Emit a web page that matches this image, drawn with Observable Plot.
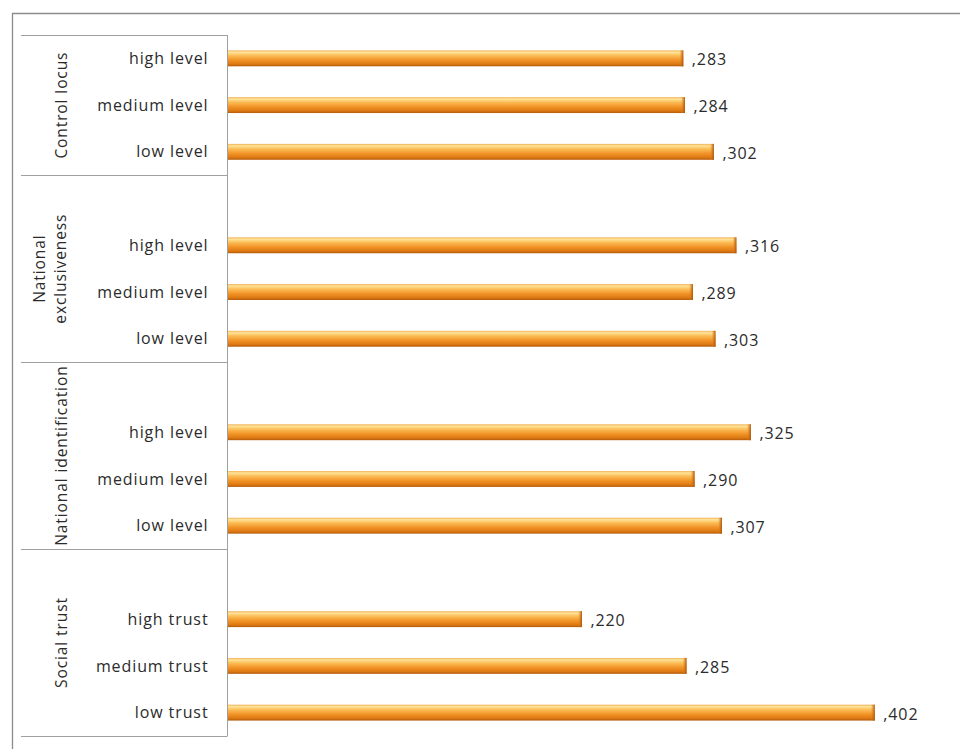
<!DOCTYPE html>
<html><head><meta charset="utf-8">
<script src="https://cdn.jsdelivr.net/npm/d3@7"></script>
<script src="https://cdn.jsdelivr.net/npm/@observablehq/plot@0.6"></script>
<style>
body{margin:0;background:#fff}
#chart svg text{letter-spacing:0.9px}
</style>
</head><body><div id="chart"></div>
<script>
// ---- data ----
const groups = ["Control locus", "National exclusiveness", "National identification", "Social trust"];
const groupLines = [["Control locus"], ["National", "exclusiveness"], ["National identification"], ["Social trust"]];
const levels = [
  ["high level", "medium level", "low level"],
  ["high level", "medium level", "low level"],
  ["high level", "medium level", "low level"],
  ["high trust", "medium trust", "low trust"]
];
const values = [
  [0.283, 0.284, 0.302],
  [0.316, 0.289, 0.303],
  [0.325, 0.290, 0.307],
  [0.220, 0.285, 0.402]
];

// ---- build table ----
const rows = [];
const yDomain = [];
groups.forEach((g, gi) => {
  if (gi > 0) yDomain.push("gap" + gi);
  levels[gi].forEach((l, li) => {
    const key = g + "|" + l;
    yDomain.push(key);
    rows.push({group: g, gi, level: l, key, value: values[gi][li]});
  });
});

const PI = 0.66;
const fmt = v => "," + v.toFixed(3).split(".")[1];

function defsMark() {
  const defs = d3.create("svg:defs");
  const g = defs.append("linearGradient").attr("id", "barGrad").attr("x1", 0).attr("y1", 0).attr("x2", 0).attr("y2", 1);
  [[0, "#f2b055"], [0.12, "#ffe49a"], [0.3, "#fcc05a"], [0.6, "#f29428"], [0.85, "#de7a14"], [1, "#b45a0a"]]
    .forEach(([o, c]) => g.append("stop").attr("offset", o).attr("stop-color", c));
  const c = defs.append("linearGradient").attr("id", "capGrad").attr("x1", 0).attr("y1", 0).attr("x2", 1).attr("y2", 0);
  [[0, "#e88a20", 0], [1, "#a8520a", 1]]
    .forEach(([o, col, op]) => c.append("stop").attr("offset", o).attr("stop-color", col).attr("stop-opacity", op));
  const f = defs.append("filter").attr("id", "shadow").attr("x", "-5%").attr("y", "-50%").attr("width", "110%").attr("height", "220%");
  f.append("feDropShadow").attr("dx", 1).attr("dy", 2.5).attr("stdDeviation", 1.8).attr("flood-color", "#000").attr("flood-opacity", 0.25);
  return defs.node();
}

function frameMark(index, scales, vals, dims) {
  const y = scales.y, x = scales.x;
  const step = y(yDomain[1]) - y(yDomain[0]);
  const off = PI * step / 2;
  const slotTop = k => y(k) - off;
  const axisX = Math.round(x(0)) - 0.5;
  const g = d3.create("svg:g");
  // outer border
  g.append("path").attr("d", `M12.5,${dims.height}V13.5H${dims.width}`)
    .attr("fill", "none").attr("stroke", "#8c8c8c").attr("stroke-width", 1.3);
  const top = slotTop(yDomain[0]);
  const bottom = slotTop(yDomain[yDomain.length - 1]) + step;
  // axis line
  g.append("line").attr("x1", axisX).attr("x2", axisX).attr("y1", top).attr("y2", bottom)
    .attr("stroke", "#a0a0a0");
  // group separators + labels
  const bounds = [top];
  for (let gi = 1; gi < groups.length; gi++) bounds.push(slotTop("gap" + gi));
  bounds.push(bottom);
  bounds.forEach(b => g.append("line").attr("x1", 21).attr("x2", axisX).attr("y1", Math.round(b) + 0.5).attr("y2", Math.round(b) + 0.5)
    .attr("stroke", "#a0a0a0"));
  groups.forEach((gr, gi) => {
    const cy = (bounds[gi] + bounds[gi + 1]) / 2;
    const lines = groupLines[gi];
    const lh = 21;
    const cx0 = lines.length > 1 ? 50 : 62;
    lines.forEach((t, li) => {
      const cx = cx0 + (li - (lines.length - 1) / 2) * lh;
      g.append("text").attr("transform", `translate(${cx},${cy}) rotate(-90)`)
        .attr("text-anchor", "middle").attr("dy", "0.35em")
        .attr("font-size", 15.5).attr("fill", "#2b2b2b").text(t);
    });
  });
  return g.node();
}

const chart = Plot.plot({
  width: 960,
  height: 749,
  marginLeft: 228,
  marginRight: 8,
  marginTop: 35,
  marginBottom: 13,
  style: {fontFamily: "'Open Sans', sans-serif", fontSize: "16px", color: "#2b2b2b", background: "#fff"},
  x: {domain: [0, 0.45], axis: null},
  y: {domain: yDomain, paddingInner: PI, paddingOuter: PI / 2, round: false, axis: null},
  marks: [
    defsMark,
    frameMark,
    Plot.barX(rows, {y: "key", x: "value", fill: "url(#barGrad)", ariaLabel: "bars"}),
    Plot.barX(rows, {y: "key", x1: "value", x2: "value", insetLeft: -4, fill: "url(#capGrad)"}),
    Plot.text(rows, {y: "key", x: "value", text: d => fmt(d.value), textAnchor: "start", dx: 8, dy: 1.5, fill: "#2b2b2b", fontSize: 16}),
    Plot.text(rows, {y: "key", x: 0, text: "level", textAnchor: "end", dx: -20, fill: "#2b2b2b", fontSize: 16})
  ]
});
document.getElementById("chart").appendChild(chart);
const barsG = chart.querySelector('g[aria-label="bars"]');
if (barsG) barsG.setAttribute("filter", "url(#shadow)");
</script>
</body></html>
